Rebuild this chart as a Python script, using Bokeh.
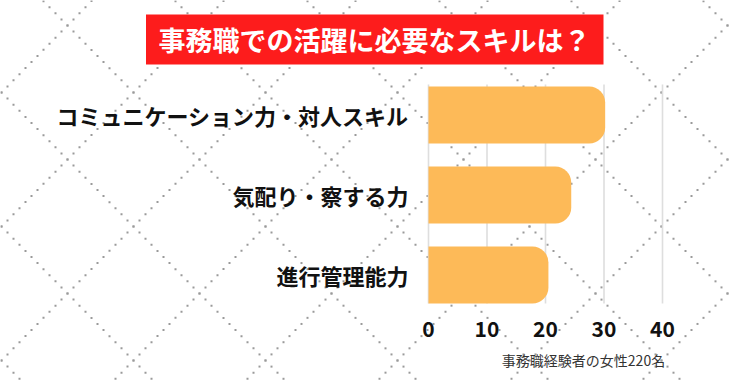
import numpy as np
from bokeh.plotting import figure
from bokeh.models import Range1d, ColumnDataSource
from bokeh.core.properties import value
from bokeh.embed import file_html
from bokeh.resources import INLINE

# ---- data ----
categories = ["コミュニケーション力・対人スキル", "気配り・察する力", "進行管理能力"]
values = [30.2, 24.4, 20.5]
ticks = [0, 10, 20, 30, 40]
tick_labels = ["0", "10", "20", "30", "40"]
title_text = "事務職での活躍に必要なスキルは？"
note_text = "事務職経験者の女性220名"

# ---- layout constants (canvas pixels) ----
W, H = 730, 383
PX0 = 428.0      # pixel of value 0
PXU = 5.85       # pixels per unit
ROW0 = 114.5     # pixel center of first bar
ROWH = 80.0      # pixels between bars
FONT = "Noto Sans CJK JP"

x_range = Range1d(-PX0 / PXU, (W - PX0) / PXU)
y_range = Range1d((H - ROW0) / ROWH, -ROW0 / ROWH)

p = figure(width=W, height=H, x_range=x_range, y_range=y_range,
           output_backend="svg", toolbar_location=None,
           x_axis_location=None, y_axis_location=None, min_border=0)
p.outline_line_color = None
p.background_fill_color = "white"
p.border_fill_color = "white"
p.xgrid.visible = False
p.ygrid.visible = False
p.extra_x_ranges = {"px": Range1d(0, W)}
p.extra_y_ranges = {"py": Range1d(H, 0)}

# ---- dotted diamond lattice background ----
s = 67.0 / 66.0
xs = 1 + 6.0 * np.arange(0, 125)
dx, dy = [], []
for n in range(-8, 10):
    for yy in (s * xs - 43 + 134 * n, -s * xs + 93 + 134 * n):
        m = (yy >= 0) & (yy <= H)
        dx.extend(xs[m])
        dy.extend(yy[m])
p.scatter(x=dx, y=dy, marker="square", size=2, fill_color="#9a9a9a",
          line_color=None, x_range_name="px", y_range_name="py")

# ---- grid lines ----
p.segment(x0=ticks, x1=ticks, y0=[84] * len(ticks), y1=[303] * len(ticks),
          line_color="#dedede", line_width=1.6, y_range_name="py")

# ---- bars ----
src = ColumnDataSource(dict(y=list(range(len(categories))), v=values, c=categories))
p.hbar(y="y", left=0, right="v", height=57 / ROWH, source=src,
       fill_color="#fdba58", line_color=None, border_radius=(0, 16, 16, 0))

# ---- category labels ----
p.text(x=value((408 - PX0) / PXU), y="y", text="c", source=src,
       text_font=value(FONT), text_font_style="bold", text_font_size="22px",
       text_color="#111111", text_align="right", text_baseline="middle")

# ---- tick labels ----
p.text(x=ticks, y=[328] * len(ticks), text=tick_labels, y_range_name="py",
       text_font=value(FONT), text_font_style="bold", text_font_size="21px",
       text_color="#111111", text_align="center", text_baseline="middle")

# ---- title box ----
p.quad(left=[145.5], right=[603], top=[14], bottom=[64], fill_color="#fd1c1c",
       line_color=None, x_range_name="px", y_range_name="py")
p.text(x=[374], y=[39], text=[title_text], x_range_name="px", y_range_name="py",
       text_font=value(FONT), text_font_style="bold", text_font_size="27px",
       text_color="white", text_align="center", text_baseline="middle")

# ---- footnote ----
p.text(x=[583], y=[359], text=[note_text], x_range_name="px", y_range_name="py",
       text_font=value(FONT), text_font_size="14px",
       text_color="#333333", text_align="center", text_baseline="middle")

open("out.html", "w").write(file_html(p, INLINE))
